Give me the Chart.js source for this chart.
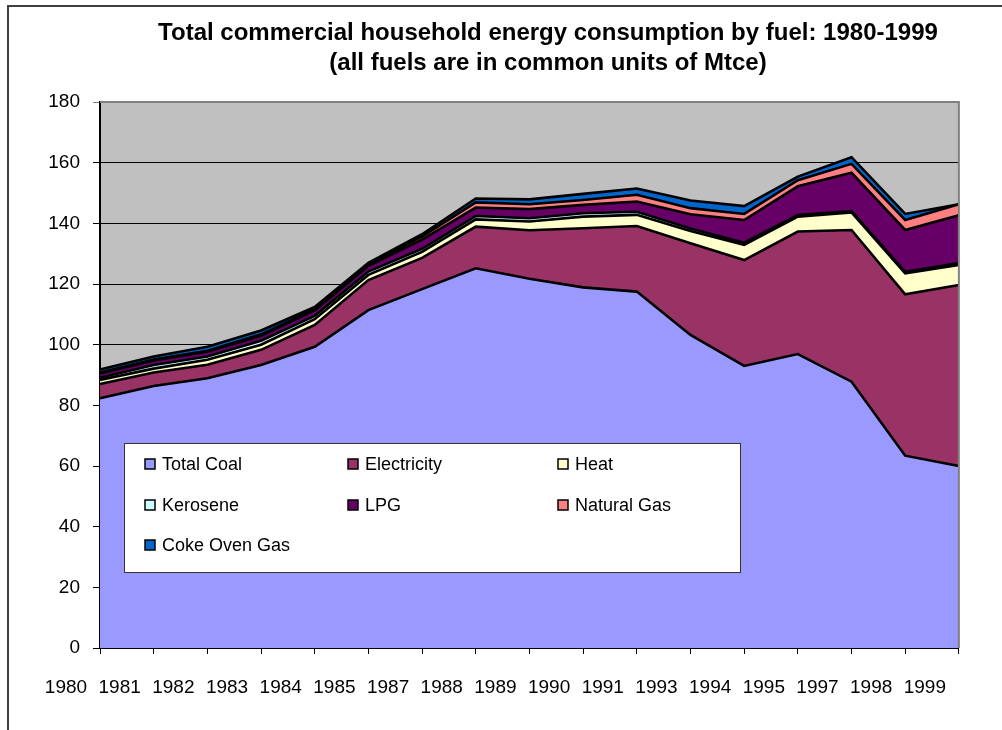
<!DOCTYPE html>
<html>
<head>
<meta charset="utf-8">
<script src="https://cdn.jsdelivr.net/npm/chart.js@4.4.0/dist/chart.umd.min.js"></script>
<style>
  html, body { margin: 0; padding: 0; background: #fff; }
  #wrap { width: 1002px; height: 730px; position: relative; }
</style>
</head>
<body>
<div id="wrap"><canvas id="energy-chart" width="1002" height="730"></canvas></div>
<script>
// Data (Mtce)
const years = ['1980', '1981', '1982', '1983', '1984', '1985', '1987', '1988', '1989',
  '1990', '1991', '1993', '1994', '1995', '1997', '1998', '1999'];

const totalCoal   = [82.3, 86.4, 88.9, 93.3, 99.3, 111.4, 118.3, 125.2, 121.7, 118.9, 117.5, 103.2, 93.0, 96.9, 87.8, 63.4, 60.0];
const electricity = [4.7, 4.4, 4.5, 5.0, 7.2, 9.9, 10.3, 13.7, 16.0, 19.5, 21.6, 30.2, 34.9, 40.4, 50.0, 53.2, 59.7];
const heat        = [1.4, 1.3, 1.6, 1.7, 1.9, 1.7, 2.0, 2.4, 2.9, 3.8, 3.7, 4.1, 5.0, 4.9, 5.8, 6.9, 6.6];
const kerosene    = [0.7, 1.2, 1.1, 1.3, 1.1, 1.1, 1.0, 1.1, 1.1, 1.1, 1.0, 0.8, 0.7, 0.5, 0.4, 0.5, 0.6];
const lpg         = [1.4, 1.5, 1.6, 1.6, 1.8, 1.9, 3.0, 2.8, 3.0, 2.8, 3.4, 4.7, 7.5, 9.5, 12.7, 13.8, 15.8];
const naturalGas  = [0.3, 0.3, 0.3, 0.5, 0.4, 0.5, 1.0, 1.7, 1.6, 1.6, 2.2, 2.0, 2.0, 2.0, 2.9, 3.3, 3.6];
const cokeOvenGas = [1.0, 1.0, 1.3, 1.3, 0.7, 0.5, 0.8, 1.3, 1.6, 2.0, 2.1, 2.5, 2.6, 1.2, 2.2, 2.0, 0.0];

const seriesNames  = ['Total Coal', 'Electricity', 'Heat', 'Kerosene', 'LPG', 'Natural Gas', 'Coke Oven Gas'];
const seriesValues = [totalCoal, electricity, heat, kerosene, lpg, naturalGas, cokeOvenGas];
const seriesColors = ['#9999FF', '#993366', '#FFFFCC', '#CCFFFF', '#660066', '#FF8080', '#0066CC'];

const FONT = '"Liberation Sans", Arial, sans-serif';

// white page, grey plot area and outer frame
const backdrop = {
  id: 'backdrop',
  beforeDraw(chart) {
    const { ctx, chartArea: a } = chart;
    ctx.save();
    ctx.fillStyle = '#fff';
    ctx.fillRect(0, 0, chart.width, chart.height);
    ctx.fillStyle = '#C0C0C0';
    ctx.fillRect(a.left, a.top, a.right - a.left, a.bottom - a.top);
    ctx.strokeStyle = '#404040';
    ctx.lineWidth = 2;
    ctx.beginPath();
    ctx.moveTo(8, chart.height);
    ctx.lineTo(8, 6);
    ctx.lineTo(chart.width, 6);
    ctx.stroke();
    ctx.restore();
  },
  afterDatasetsDraw(chart) {
    const { ctx, chartArea: a } = chart;
    ctx.save();
    ctx.strokeStyle = '#808080';
    ctx.lineWidth = 2;
    ctx.beginPath();
    ctx.moveTo(a.left, a.top);
    ctx.lineTo(a.right, a.top);
    ctx.lineTo(a.right, a.bottom);
    ctx.stroke();
    ctx.restore();
  }
};

// two line bold title
const excelTitle = {
  id: 'excelTitle',
  afterDraw(chart, args, opts) {
    const ctx = chart.ctx;
    ctx.save();
    ctx.fillStyle = '#000';
    ctx.font = 'bold 24px ' + FONT;
    ctx.textAlign = 'center';
    ctx.textBaseline = 'middle';
    opts.lines.forEach((line, i) => ctx.fillText(line, opts.x, opts.y + i * 30));
    ctx.restore();
  }
};

// legend box inside the plot, three columns
const boxLegend = {
  id: 'boxLegend',
  afterDraw(chart, args, opts) {
    const ctx = chart.ctx;
    ctx.save();
    ctx.fillStyle = '#fff';
    ctx.fillRect(opts.left, opts.top, opts.width, opts.height);
    ctx.strokeStyle = '#333';
    ctx.lineWidth = 1;
    ctx.strokeRect(opts.left + 0.5, opts.top + 0.5, opts.width, opts.height);
    ctx.font = '18px ' + FONT;
    ctx.textBaseline = 'middle';
    chart.data.datasets.forEach((ds, i) => {
      const col = i % 3, row = Math.floor(i / 3);
      const x = opts.left + opts.colX[col];
      const y = opts.top + opts.rowY[row];
      ctx.fillStyle = ds.backgroundColor;
      ctx.fillRect(x, y - 5, 10, 10);
      ctx.strokeStyle = '#000';
      ctx.lineWidth = 1.5;
      ctx.strokeRect(x, y - 5, 10, 10);
      ctx.fillStyle = '#000';
      ctx.fillText(ds.label, x + 17, y + 1);
    });
    ctx.restore();
  }
};

const datasets = seriesNames.map((name, i) => ({
  label: name,
  data: seriesValues[i],
  backgroundColor: seriesColors[i],
  borderColor: '#000',
  borderWidth: 2.6,
  pointRadius: 0,
  tension: 0,
  fill: i === 0 ? 'origin' : '-1'
}));

new Chart(document.getElementById('energy-chart'), {
  type: 'line',
  data: { labels: years, datasets: datasets },
  plugins: [backdrop, excelTitle, boxLegend],
  options: {
    responsive: false,
    animation: false,
    layout: { padding: { top: 102, right: 40, left: 0, bottom: 0 } },
    plugins: {
      legend: { display: false },
      tooltip: { enabled: false },
      excelTitle: {
        lines: ['Total commercial household energy consumption by fuel: 1980-1999',
                '(all fuels are in common units of Mtce)'],
        x: 548, y: 33
      },
      boxLegend: {
        left: 124, top: 443, width: 616, height: 129,
        colX: [21, 224, 434], rowY: [21, 62, 102]
      }
    },
    scales: {
      x: {
        offset: false,
        afterFit: (s) => { s.height = 82; },
        grid: { drawOnChartArea: false, color: '#000', tickLength: 6 },
        border: { color: '#000', width: 2 },
        ticks: {
          color: '#000', font: { family: FONT, size: 19 },
          maxRotation: 0, autoSkip: false, labelOffset: -34, padding: 22
        }
      },
      y: {
        stacked: true,
        min: 0, max: 180,
        afterFit: (s) => { s.width = 100; },
        grid: {
          color: (c) => c.tick && c.tick.value === 180 ? '#808080' : '#000',
          lineWidth: 1, tickLength: 7
        },
        border: { color: '#000', width: 2 },
        ticks: { stepSize: 20, color: '#000', font: { family: FONT, size: 19 }, padding: 13 }
      }
    }
  }
});
</script>
</body>
</html>
